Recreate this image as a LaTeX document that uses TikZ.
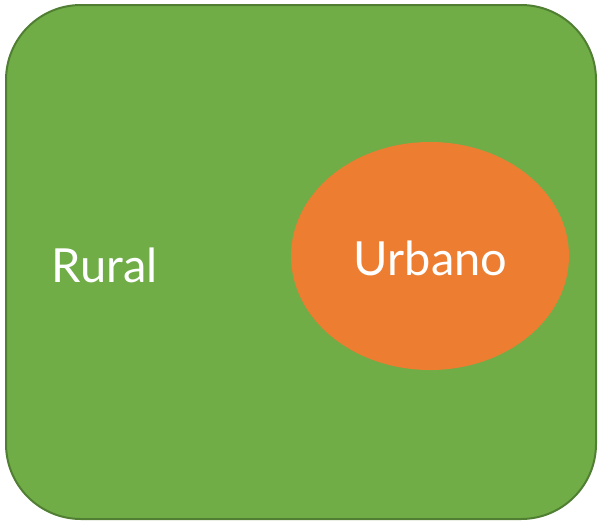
\documentclass[tikz,border=0pt]{standalone}
\usepackage{fontspec}
\setmainfont{Lato}
\definecolor{boxgreen}{HTML}{70AD47}
\definecolor{boxedge}{HTML}{507E32}
\definecolor{urbanorange}{HTML}{ED7D31}
\tikzset{
  region/.style={draw=boxedge, line width=2pt, fill=boxgreen, rounded corners=75pt},
  area/.style={fill=urbanorange, draw=none, ellipse},
  lab/.style={text=white, font=\fontsize{47}{50}\selectfont, inner sep=0pt}
}
\usetikzlibrary{shapes.geometric}
\begin{document}
\begin{tikzpicture}[x=1pt,y=-1pt]
\useasboundingbox (0,0) rectangle (599,522);
\draw[region] (6,5) rectangle (596,519);
\node[area, minimum width=278pt, minimum height=228pt, inner sep=0pt] (urb) at (430,256) {};
\node[lab] (urbtext) at (430.5,258) {Urbano};
\node[lab] (rural) at (104.5,265) {Rural};
\end{tikzpicture}
\end{document}
